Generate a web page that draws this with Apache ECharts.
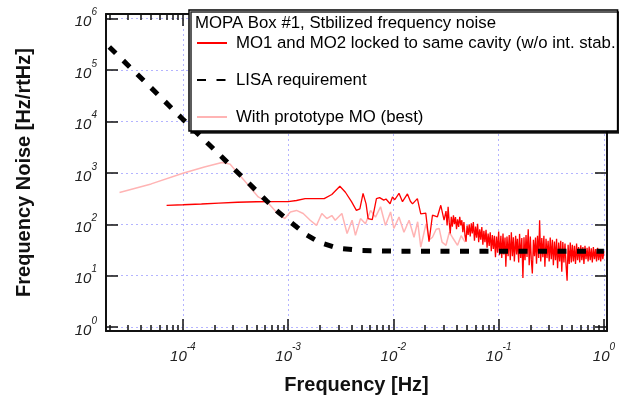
<!DOCTYPE html>
<html>
<head>
<meta charset="utf-8">
<script src="https://cdn.jsdelivr.net/npm/echarts@6/dist/echarts.min.js"></script>
<style>
  html, body { margin: 0; padding: 0; background: #fff; }
  #chart { width: 619px; height: 397px; }
</style>
</head>
<body>
<div id="chart"></div>
<script>
// axis ticks (Hz and Hz/rtHz)
const xMajorTicks = [1e-4, 1e-3, 1e-2, 1e-1, 1];
const xMinorTicks = [
  2e-5, 3e-5, 4e-5, 5e-5, 6e-5, 7e-5, 8e-5, 9e-5,
  2e-4, 3e-4, 4e-4, 5e-4, 6e-4, 7e-4, 8e-4, 9e-4,
  2e-3, 3e-3, 4e-3, 5e-3, 6e-3, 7e-3, 8e-3, 9e-3,
  2e-2, 3e-2, 4e-2, 5e-2, 6e-2, 7e-2, 8e-2, 9e-2,
  0.2, 0.3, 0.4, 0.5, 0.6, 0.7, 0.8, 0.9
];
const yMajorTicks = [1, 10, 100, 1e3, 1e4, 1e5, 1e6];

// MO1 and MO2 locked to same cavity  [f, noise]
const moLocked = [
  [7.0e-5, 234], [1.0e-4, 240], [1.5e-4, 248], [2.2e-4, 258], [3.3e-4, 268],
  [5.0e-4, 274], [7.5e-4, 275], [1.0e-3, 276], [1.2e-3, 290], [1.45e-3, 316],
  [2.2e-3, 316], [2.6e-3, 380], [3.1e-3, 550], [3.5e-3, 420], [4.0e-3, 275],
  [4.45e-3, 186], [4.8e-3, 200], [5.15e-3, 400], [5.5e-3, 250], [5.75e-3, 129],
  [6.3e-3, 123], [6.9e-3, 316], [7.4e-3, 330], [8.1e-3, 295], [8.5e-3, 310],
  [9.3e-3, 251], [9.8e-3, 340], [1.03e-2, 300], [1.13e-2, 400], [1.22e-2, 275],
  [1.36e-2, 390], [1.45e-2, 280], [1.52e-2, 250], [1.69e-2, 316], [1.82e-2, 160],
  [2.03e-2, 165], [2.18e-2, 46], [2.35e-2, 150], [2.62e-2, 140], [2.82e-2, 234],
  [3.03e-2, 120],
  [0.0316, 180], [0.0324, 95], [0.0331, 219], [0.0339, 110], [0.0347, 66],
  [0.0355, 140], [0.0363, 90], [0.0372, 150], [0.0380, 100], [0.0389, 138],
  [0.0398, 80], [0.0407, 125], [0.0417, 89], [0.0427, 140], [0.0437, 95],
  [0.0447, 120], [0.0457, 70], [0.0468, 110], [0.0479, 60], [0.0490, 46],
  [0.0501, 95], [0.0513, 62], [0.0525, 100], [0.0537, 58], [0.0550, 105],
  [0.0562, 66], [0.0575, 110], [0.0589, 48], [0.0603, 90], [0.0617, 55],
  [0.0631, 102], [0.0646, 45], [0.0661, 80], [0.0676, 50], [0.0692, 88],
  [0.0708, 40], [0.0724, 75], [0.0741, 45], [0.0759, 78], [0.0776, 35],
  [0.0794, 66], [0.0813, 38], [0.0832, 70], [0.0851, 30], [0.0871, 62],
  [0.0891, 33], [0.0912, 60], [0.0933, 23], [0.0955, 58], [0.0977, 28],
  [0.100, 72], [0.102, 25], [0.105, 60], [0.107, 22], [0.110, 66],
  [0.112, 26], [0.115, 55], [0.117, 15], [0.120, 58], [0.123, 24],
  [0.126, 62], [0.129, 20], [0.132, 70], [0.135, 24], [0.138, 56],
  [0.141, 19], [0.145, 60], [0.148, 26], [0.151, 52], [0.155, 18],
  [0.158, 65], [0.162, 22], [0.166, 54], [0.170, 9], [0.174, 56],
  [0.178, 20], [0.182, 62], [0.186, 23], [0.191, 80], [0.195, 16],
  [0.200, 58], [0.204, 21], [0.209, 11], [0.214, 50], [0.219, 24],
  [0.224, 55], [0.229, 17], [0.234, 60], [0.240, 22], [0.245, 120],
  [0.251, 19], [0.257, 54], [0.263, 23], [0.269, 60], [0.275, 15],
  [0.282, 52], [0.288, 22], [0.295, 48], [0.302, 19], [0.309, 55],
  [0.316, 21], [0.324, 50], [0.331, 16], [0.339, 46], [0.347, 20],
  [0.355, 52], [0.363, 14], [0.372, 44], [0.380, 19], [0.389, 48],
  [0.398, 12], [0.407, 45], [0.417, 18], [0.427, 42], [0.437, 16],
  [0.447, 8], [0.457, 40], [0.468, 17], [0.479, 44], [0.490, 18],
  [0.501, 40], [0.513, 19], [0.525, 38], [0.537, 17], [0.550, 42],
  [0.562, 20], [0.575, 36], [0.589, 18], [0.603, 39], [0.617, 20],
  [0.631, 36], [0.646, 17], [0.661, 38], [0.676, 21], [0.692, 35],
  [0.708, 19], [0.724, 37], [0.741, 20], [0.759, 34], [0.776, 18],
  [0.794, 36], [0.813, 21], [0.832, 33], [0.851, 19], [0.871, 35],
  [0.891, 20], [0.912, 32], [0.933, 19], [0.955, 33], [0.977, 21],
  [1.000, 30]
];

// LISA requirement
const lisaReq = [
  [2.0e-5, 2.8e5], [5e-5, 4.5e4], [1e-4, 1.1e4], [2e-4, 2.8e3], [4e-4, 700],
  [6.3e-4, 280], [8e-4, 175], [1e-3, 120], [1.5e-3, 62], [2e-3, 44],
  [3e-3, 34], [5e-3, 31], [1e-2, 30], [1, 30]
];

// With prototype MO (best)
const protoMO = [
  [2.5e-5, 415], [5e-5, 610], [1e-4, 980], [1.6e-4, 1300], [2.35e-4, 1590],
  [2.8e-4, 1480], [3.3e-4, 1000], [4.0e-4, 640], [5.2e-4, 340], [6.3e-4, 275],
  [7.9e-4, 163], [9.3e-4, 129], [1.05e-3, 174], [1.2e-3, 186], [1.39e-3, 162],
  [1.62e-3, 120], [1.86e-3, 95], [2.09e-3, 162], [2.33e-3, 129], [2.6e-3, 148],
  [2.8e-3, 120], [3.24e-3, 162], [3.63e-3, 66], [4.05e-3, 120], [4.36e-3, 61],
  [4.87e-3, 129], [5.43e-3, 102], [6.07e-3, 186], [6.76e-3, 138], [7.55e-3, 219],
  [8.4e-3, 95], [9.4e-3, 174], [1.01e-2, 83], [1.13e-2, 138], [1.26e-2, 70],
  [1.41e-2, 120], [1.57e-2, 56], [1.7e-2, 112], [1.82e-2, 36], [2.04e-2, 102],
  [2.2e-2, 50], [2.35e-2, 56], [2.55e-2, 80], [2.72e-2, 83], [2.9e-2, 45],
  [3.16e-2, 39], [3.4e-2, 70], [3.63e-2, 56], [4.07e-2, 39], [4.4e-2, 60],
  [4.8e-2, 45]
];

const FONT = "'Liberation Sans', Arial, sans-serif";
const NAME_MO = 'MO1 and MO2 locked to same cavity (w/o int. stab.';
const NAME_LISA = 'LISA requirement';
const NAME_PROTO = 'With prototype MO (best)';

const powLabel = (v) => `{b|10}{e|${Math.round(Math.log10(v))}}`;
const powRich = {
  b: { fontFamily: FONT, fontStyle: 'italic', fontSize: 15, color: '#222', lineHeight: 22, verticalAlign: 'bottom' },
  e: { fontFamily: FONT, fontStyle: 'italic', fontSize: 10, color: '#222', lineHeight: 22, verticalAlign: 'top' },
};
const gridLine = { show: true, lineStyle: { color: '#b4b4ff', type: [2, 3], width: 1 } };
const frame = { show: true, onZero: false, lineStyle: { color: '#111', width: 2 } };
const titleFont = { fontFamily: FONT, fontSize: 20, fontWeight: 'bold', color: '#111' };

const X_MIN = 1.86e-5, X_MAX = 1.07;
const Y_MIN = 0.84, Y_MAX = 1.23e6;

function xAx(position, major) {
  return {
    type: 'log', min: X_MIN, max: X_MAX, position,
    axisLine: major ? frame : { show: false },
    axisTick: {
      show: true, inside: true, length: major ? 12 : 6,
      customValues: major ? xMajorTicks : xMinorTicks,
      lineStyle: { color: '#111', width: 1.5 },
    },
    axisLabel: { show: false },
    splitLine: { show: false },
  };
}

const chart = echarts.init(document.getElementById('chart'));
chart.setOption({
  animation: false,
  backgroundColor: '#fff',
  title: {
    text: 'MOPA Box #1, Stbilized frequency noise',
    left: 195, top: 15, padding: 0, z: 10,
    textStyle: { fontFamily: FONT, fontSize: 16.8, fontWeight: 'normal', color: '#000' },
  },
  legend: {
    orient: 'vertical', left: 189, top: 10, z: 8,
    data: [NAME_MO, NAME_LISA, NAME_PROTO],
    itemWidth: 30, itemHeight: 14, itemGap: 17,
    padding: [23, 2, 4, 7],
    backgroundColor: '#fff', borderColor: '#000', borderWidth: 1.5,
    shadowColor: 'rgba(0,0,0,0.85)', shadowOffsetX: 2, shadowOffsetY: 2, shadowBlur: 0,
    itemStyle: { opacity: 0 },
    textStyle: { fontFamily: FONT, fontSize: 16.8, lineHeight: 20, color: '#000', padding: [0, 0, 0, 4] },
    selectedMode: false,
  },
  grid: { left: 106, right: 12, top: 14, bottom: 66, outerBoundsMode: 'none', containLabel: false },
  xAxis: [
    {
      type: 'log', min: X_MIN, max: X_MAX, position: 'bottom',
      name: 'Frequency [Hz]', nameLocation: 'middle', nameGap: 44,
      nameTextStyle: titleFont,
      axisLine: frame,
      axisTick: { show: true, inside: true, length: 12, customValues: xMajorTicks, lineStyle: { color: '#111', width: 1.5 } },
      axisLabel: { customValues: xMajorTicks, formatter: powLabel, rich: powRich, margin: 11 },
      splitLine: gridLine,
    },
    xAx('bottom', false),
    xAx('top', true),
    xAx('top', false),
  ],
  yAxis: [
    {
      type: 'log', min: Y_MIN, max: Y_MAX, position: 'left',
      name: 'Frequency Noise [Hz/rtHz]', nameLocation: 'middle', nameGap: 72,
      nameTextStyle: titleFont,
      axisLine: frame,
      axisTick: { show: true, inside: true, length: 12, customValues: yMajorTicks, lineStyle: { color: '#111', width: 1.5 } },
      axisLabel: { customValues: yMajorTicks, formatter: powLabel, rich: powRich, margin: 9 },
      splitLine: gridLine,
    },
    {
      type: 'log', min: Y_MIN, max: Y_MAX, position: 'right',
      axisLine: frame,
      axisTick: { show: true, inside: true, length: 12, customValues: yMajorTicks, lineStyle: { color: '#111', width: 1.5 } },
      axisLabel: { show: false },
      splitLine: { show: false },
    },
  ],
  series: [
    {
      name: NAME_PROTO, type: 'line', data: protoMO, symbol: 'none',
      lineStyle: { color: '#ffb4b4', width: 1.5 }, itemStyle: { color: '#ffb4b4' },
    },
    {
      name: NAME_MO, type: 'line', data: moLocked, symbol: 'none',
      lineStyle: { color: '#ff0000', width: 1.3 }, itemStyle: { color: '#ff0000' },
    },
    {
      name: NAME_LISA, type: 'line', data: lisaReq, symbol: 'none',
      lineStyle: { color: '#000', width: 5, type: [9, 10.5], cap: 'butt' }, itemStyle: { color: '#000' },
    },
  ],
});
</script>
</body>
</html>
